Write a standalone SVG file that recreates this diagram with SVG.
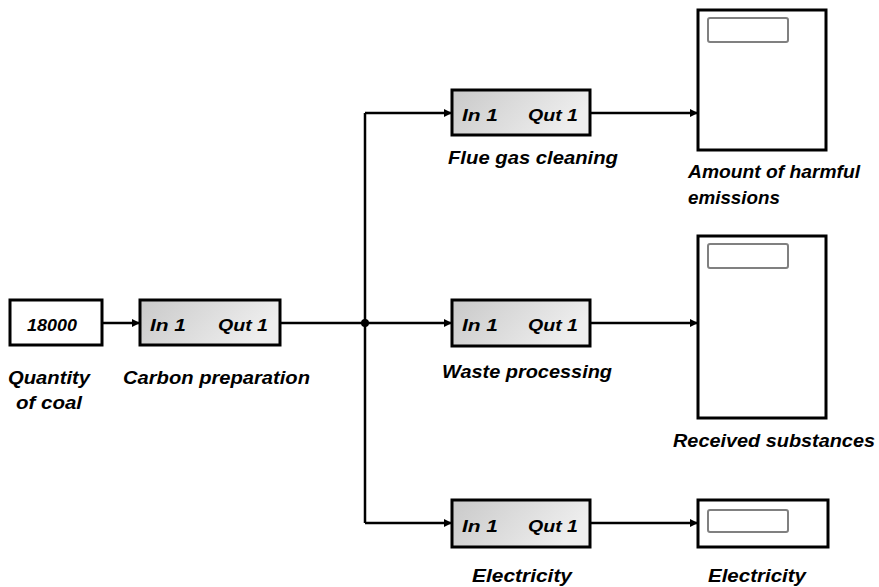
<svg xmlns="http://www.w3.org/2000/svg" width="879" height="587" viewBox="0 0 879 587">
<defs>
<linearGradient id="g" x1="0" y1="0" x2="1" y2="0.3">
<stop offset="0" stop-color="#c9c9c9"/>
<stop offset="1" stop-color="#eeeeee"/>
</linearGradient>
<marker id="arr" viewBox="0 0 10 10" refX="10" refY="5" markerWidth="10" markerHeight="8" markerUnits="userSpaceOnUse" orient="auto">
<path d="M0,0 L10,5 L0,10 z" fill="#000"/>
</marker>
<style>
.box{fill:#fff;stroke:#000;stroke-width:3}
.sub{fill:url(#g);stroke:#000;stroke-width:3}
.disp{fill:#fff;stroke:#000;stroke-width:3}
.inner{fill:#fff;stroke:#808080;stroke-width:2}
.wire{fill:none;stroke:#000;stroke-width:2.5}
.t{font-family:"Liberation Sans",Arial,sans-serif;font-style:italic;font-weight:bold;font-size:19px;fill:#000}
.p{font-family:"Liberation Sans",Arial,sans-serif;font-style:italic;font-weight:bold;font-size:17px;fill:#000}
</style>
</defs>
<rect width="879" height="587" fill="#fff"/>
<g id="connectors">
<line class="wire" x1="102" y1="323" x2="140" y2="323" marker-end="url(#arr)"/>
<line class="wire" x1="280" y1="323" x2="365" y2="323"/>
<polyline class="wire" points="365,113 365,523"/>
<line class="wire" x1="365" y1="113" x2="452" y2="113" marker-end="url(#arr)"/>
<line class="wire" x1="365" y1="323" x2="452" y2="323" marker-end="url(#arr)"/>
<line class="wire" x1="365" y1="523" x2="452" y2="523" marker-end="url(#arr)"/>
<line class="wire" x1="590" y1="113" x2="698" y2="113" marker-end="url(#arr)"/>
<line class="wire" x1="590" y1="323" x2="698" y2="323" marker-end="url(#arr)"/>
<line class="wire" x1="590" y1="523" x2="698" y2="523" marker-end="url(#arr)"/>
<circle cx="365" cy="323" r="4" fill="#000"/>
</g>
<g id="coal">
<rect class="box" x="10" y="300" width="92" height="45"/>
<text class="p" x="27" y="331" textLength="50" lengthAdjust="spacingAndGlyphs">18000</text>
<text class="t" x="8" y="384" textLength="82" lengthAdjust="spacingAndGlyphs">Quantity</text>
<text class="t" x="16" y="409" textLength="66" lengthAdjust="spacingAndGlyphs">of coal</text>
</g>
<g id="carbon">
<rect class="sub" x="140" y="300" width="140" height="45"/>
<text class="p" x="150" y="331" textLength="36" lengthAdjust="spacingAndGlyphs">In 1</text>
<text class="p" x="218" y="331" textLength="50" lengthAdjust="spacingAndGlyphs">Qut 1</text>
<text class="t" x="123" y="384" textLength="187" lengthAdjust="spacingAndGlyphs">Carbon preparation</text>
</g>
<g id="flue">
<rect class="sub" x="452" y="90" width="138" height="45"/>
<text class="p" x="462" y="121" textLength="36" lengthAdjust="spacingAndGlyphs">In 1</text>
<text class="p" x="528" y="121" textLength="50" lengthAdjust="spacingAndGlyphs">Qut 1</text>
<text class="t" x="448" y="164" textLength="170" lengthAdjust="spacingAndGlyphs">Flue gas cleaning</text>
</g>
<g id="waste">
<rect class="sub" x="452" y="300" width="138" height="46"/>
<text class="p" x="462" y="331" textLength="36" lengthAdjust="spacingAndGlyphs">In 1</text>
<text class="p" x="528" y="331" textLength="50" lengthAdjust="spacingAndGlyphs">Qut 1</text>
<text class="t" x="442" y="378" textLength="170" lengthAdjust="spacingAndGlyphs">Waste processing</text>
</g>
<g id="electricity">
<rect class="sub" x="452" y="500" width="138" height="47"/>
<text class="p" x="462" y="532" textLength="36" lengthAdjust="spacingAndGlyphs">In 1</text>
<text class="p" x="528" y="532" textLength="50" lengthAdjust="spacingAndGlyphs">Qut 1</text>
<text class="t" x="472" y="582" textLength="100" lengthAdjust="spacingAndGlyphs">Electricity</text>
</g>
<g id="emissions">
<rect class="disp" x="698" y="10" width="128" height="140"/>
<rect class="inner" x="708" y="18" width="80" height="24" rx="2"/>
<text class="t" x="688" y="178" textLength="172" lengthAdjust="spacingAndGlyphs">Amount of harmful</text>
<text class="t" x="688" y="204" textLength="92" lengthAdjust="spacingAndGlyphs">emissions</text>
</g>
<g id="received">
<rect class="disp" x="698" y="236" width="128" height="182"/>
<rect class="inner" x="708" y="244" width="80" height="24" rx="2"/>
<text class="t" x="673" y="447" textLength="202" lengthAdjust="spacingAndGlyphs">Received substances</text>
</g>
<g id="electricity-out">
<rect class="disp" x="698" y="500" width="130" height="47"/>
<rect class="inner" x="708" y="510" width="80" height="22" rx="2"/>
<text class="t" x="708" y="582" textLength="98" lengthAdjust="spacingAndGlyphs">Electricity</text>
</g>
</svg>
